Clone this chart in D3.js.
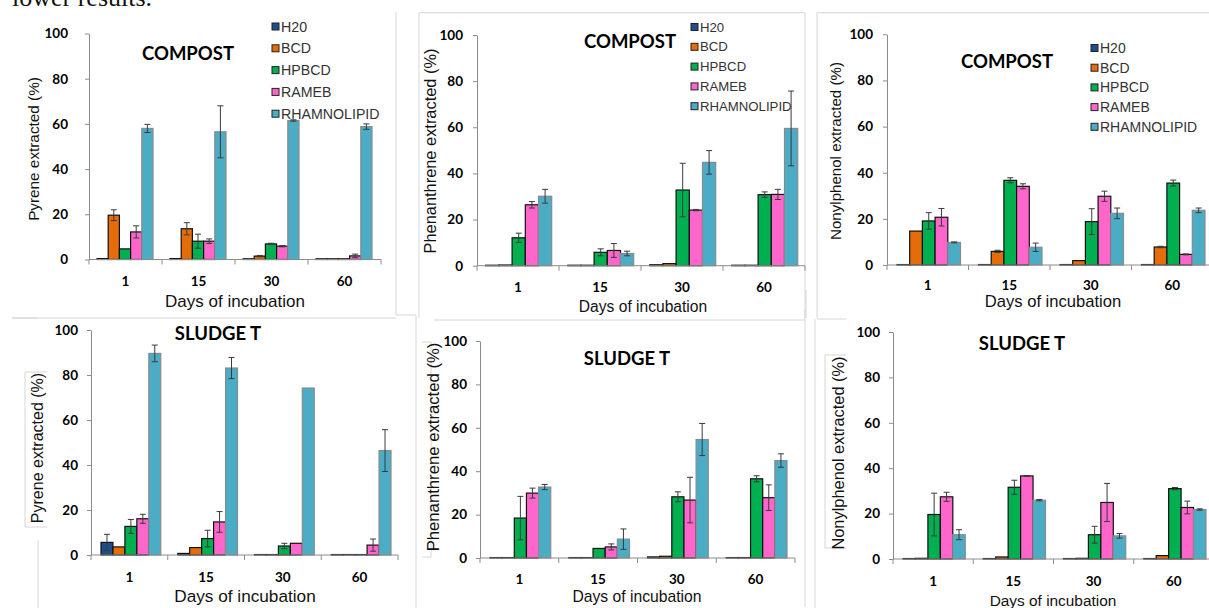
<!DOCTYPE html>
<html>
<head>
<meta charset="utf-8">
<script src="https://cdn.jsdelivr.net/npm/d3@7"></script>
<style>
  html, body { margin: 0; padding: 0; background: #fff; }
  svg { display: block; }
</style>
</head>
<body>
<svg id="chart" width="1209" height="608"></svg>
<script>
// ---------------- DATA ----------------
const categories = ["1", "15", "30", "60"];
const seriesNames = ["H20", "BCD", "HPBCD", "RAMEB", "RHAMNOLIPID"];
const yTickValues = [0, 20, 40, 60, 80, 100];

// rows = series (H20, BCD, HPBCD, RAMEB, RHAMNOLIPID), columns = days (1, 15, 30, 60)
const pyreneCompost = [
  [0.4, 0.4, 0.3, 0.3],
  [19.6, 13.6, 1.5, 0.3],
  [4.7, 8.1, 6.9, 0.3],
  [12.2, 8.1, 5.9, 1.6],
  [58.0, 56.5, 61.5, 58.8]
];
const pyreneCompostErr = [
  [0, 0, 0, 0],
  [2.4, 2.7, 0.3, 0],
  [0, 3.1, 0.3, 0],
  [2.7, 1.0, 0.3, 0.8],
  [1.8, 11.5, 0.3, 1.2]
];

const phenanthreneCompost = [
  [0.2, 0.2, 0.4, 0.2],
  [0.3, 0.2, 0.9, 0.2],
  [12.1, 5.8, 32.8, 30.8],
  [26.4, 6.6, 24.1, 30.9],
  [30.1, 5.3, 44.8, 59.5]
];
const phenanthreneCompostErr = [
  [0, 0, 0, 0],
  [0, 0, 0, 0],
  [2.0, 1.5, 11.6, 1.2],
  [1.4, 3.0, 0.3, 2.2],
  [3.0, 1.0, 5.1, 16.2]
];

const nonylphenolCompost = [
  [0.2, 0.2, 0.2, 0.2],
  [14.7, 5.9, 1.9, 7.8],
  [19.1, 36.7, 18.8, 35.5],
  [20.7, 34.1, 29.8, 4.6],
  [9.8, 7.7, 22.4, 23.7]
];
const nonylphenolCompostErr = [
  [0, 0, 0, 0],
  [0, 0.5, 0, 0.3],
  [3.6, 1.1, 5.6, 1.3],
  [3.8, 1.1, 2.2, 0.2],
  [0.2, 1.8, 2.3, 1.0]
];

const pyreneSludge = [
  [5.6, 0.7, 0.2, 0.2],
  [3.6, 3.3, 0.2, 0.2],
  [12.7, 7.3, 4.0, 0.2],
  [16.1, 14.7, 5.2, 4.4],
  [89.6, 83.1, 74.2, 46.4]
];
const pyreneSludgeErr = [
  [3.6, 0, 0, 0],
  [0, 0, 0, 0],
  [3.1, 3.7, 1.2, 0],
  [2.0, 4.6, 0, 2.7],
  [3.7, 4.7, 0, 9.3]
];

const phenanthreneSludge = [
  [0.2, 0.2, 0.5, 0.2],
  [0.2, 0.2, 0.8, 0.2],
  [18.4, 4.4, 28.2, 36.5],
  [29.9, 5.1, 26.7, 27.8],
  [32.7, 8.7, 54.6, 44.9]
];
const phenanthreneSludgeErr = [
  [0, 0, 0, 0],
  [0, 0, 0, 0],
  [10.0, 0, 2.3, 1.4],
  [2.3, 1.4, 10.5, 5.9],
  [1.2, 4.7, 7.4, 3.1]
];

const nonylphenolSludge = [
  [0.2, 0.2, 0.2, 0.2],
  [0.3, 0.9, 0.3, 1.5],
  [19.6, 31.6, 10.7, 31.0],
  [27.4, 36.6, 24.9, 22.7],
  [10.7, 25.9, 10.2, 21.8]
];
const nonylphenolSludgeErr = [
  [0, 0, 0, 0],
  [0, 0, 0, 0],
  [9.4, 3.1, 3.7, 0.5],
  [2.0, 0.2, 8.4, 2.8],
  [2.2, 0.3, 1.0, 0.3]
];

// ---------------- STYLE / LAYOUT ----------------
const seriesColors = ["#1f4e8c", "#e46c0a", "#00b050", "#ff66cc", "#4bacc6"];
const seriesStroke = ["#111", "#111", "#111", "#111", "#8a8a8a"];

const panels = [
  { values: pyreneCompost, errs: pyreneCompostErr, ylabel: "Pyrene extracted (%)", title: "COMPOST",
    x0: 89, x1: 381, yTop: 33.5, yBot: 259.5, padL: 8, padR: 9, tickPad: 17,
    catY: 286, titleX: 188, titleY: 60, ylabX: 33, ylabY: 149, ylabFs: 15.3,
    xlabX: 235, xlabY: 307, xlabFs: 17,
    legend: { x: 272, y: 26.5, dy: 21.8, fs: 14.2 } },
  { values: phenanthreneCompost, errs: phenanthreneCompostErr, ylabel: "Phenanthrene extracted (%)", title: "COMPOST",
    x0: 477, x1: 805, yTop: 35, yBot: 265.7, padL: 8.7, padR: 7.3, tickPad: 10,
    catY: 292, titleX: 630, titleY: 48, ylabX: 430, ylabY: 151, ylabFs: 16.4,
    xlabX: 643, xlabY: 312, xlabFs: 15.6,
    legend: { x: 691, y: 27, dy: 19.8, fs: 13.2 } },
  { values: nonylphenolCompost, errs: nonylphenolCompostErr, ylabel: "Nonylphenol extracted (%)", title: "COMPOST",
    x0: 887, x1: 1213, yTop: 34.3, yBot: 265, padL: 10, padR: 8, tickPad: 10,
    catY: 290, titleX: 1007, titleY: 68, ylabX: 835, ylabY: 151, ylabFs: 15.1,
    xlabX: 1053, xlabY: 307, xlabFs: 16.6,
    legend: { x: 1091, y: 48, dy: 19.7, fs: 14 } },
  { values: pyreneSludge, errs: pyreneSludgeErr, ylabel: "Pyrene extracted (%)", title: "SLUDGE T",
    x0: 91, x1: 398, yTop: 330, yBot: 555, padL: 10, padR: 7, tickPad: 9,
    catY: 582, titleX: 218, titleY: 340, ylabX: 37, ylabY: 448, ylabFs: 16,
    xlabX: 245, xlabY: 602, xlabFs: 17.2, legend: null },
  { values: phenanthreneSludge, errs: phenanthreneSludgeErr, ylabel: "Phenanthrene extracted (%)", title: "SLUDGE T",
    x0: 480, x1: 795, yTop: 341, yBot: 558, padL: 10, padR: 8, tickPad: 9,
    catY: 584, titleX: 627, titleY: 365, ylabX: 433, ylabY: 447, ylabFs: 16.7,
    xlabX: 637, xlabY: 602, xlabFs: 15.7, legend: null },
  { values: nonylphenolSludge, errs: nonylphenolSludgeErr, ylabel: "Nonylphenol extracted (%)", title: "SLUDGE T",
    x0: 893, x1: 1214, yTop: 332, yBot: 559, padL: 10, padR: 8, tickPad: 9,
    catY: 586, titleX: 1022, titleY: 350, ylabX: 838, ylabY: 453, ylabFs: 16.4,
    xlabX: 1053, xlabY: 606, xlabFs: 15.4, legend: null }
];

const svg = d3.select("#chart");

// faint frames of the pasted figure pieces
const frameLines = [
  "M396,12 V315 H416 V608",
  "M12,318 H37",
  "M419,318 V12.7 H805 V318",
  "M805,310 V607",
  "M817,318 V12.7 H1209",
  "M806,290 V318",
  "M12,318 H396",
  "M434,320 H805",
  "M815,319 V608",
  "M817,319 H846",
  "M47,372 H25 V527 H47",
  "M422,342 H431 V557 H422",
  "M846,355 H825 V548 H846",
  "M38,540 V608"
];
svg.append("g").selectAll("path").data(frameLines).join("path")
  .attr("d", d => d).attr("fill", "none").attr("stroke", "#d6d6d6").attr("stroke-width", 1);

// top text fragment (cut off at the top edge, as in the reference)
svg.append("text").attr("x", 12).attr("y", 6)
  .style("font-family", "'Liberation Serif', 'DejaVu Serif', serif").style("font-size", "26px")
  .attr("fill", "#111").text("lower results.");

panels.forEach(p => {
  const g = svg.append("g");
  const x = d3.scaleBand().domain(categories).range([p.x0, p.x1]).padding(0);
  const xs = d3.scaleBand().domain(seriesNames).range([p.padL, x.bandwidth() - p.padR]).padding(0);
  const y = d3.scaleLinear().domain([0, 100]).range([p.yBot, p.yTop]);

  // y axis
  const yAxis = g.append("g").attr("transform", `translate(${p.x0},0)`)
    .call(d3.axisLeft(y).tickValues(yTickValues).tickSize(4).tickSizeOuter(0).tickPadding(p.tickPad));
  yAxis.select(".domain").attr("stroke", "#8c8c8c");
  yAxis.selectAll(".tick line").attr("stroke", "#8c8c8c");
  yAxis.selectAll(".tick text")
    .style("font-family", "Lato, 'Open Sans', sans-serif").style("font-weight", "bold")
    .style("font-size", "13.5px").attr("fill", "#000");

  // bars
  seriesNames.forEach((s, si) => {
    const bars = g.append("g");
    bars.selectAll("rect").data(categories).join("rect")
      .attr("x", (c) => x(c) + xs(s))
      .attr("y", (c, ci) => y(p.values[si][ci]))
      .attr("width", xs.bandwidth())
      .attr("height", (c, ci) => y(0) - y(p.values[si][ci]))
      .attr("fill", seriesColors[si])
      .attr("stroke", seriesStroke[si]).attr("stroke-width", 1.2);
  });

  // error bars
  seriesNames.forEach((s, si) => {
    categories.forEach((c, ci) => {
      const e = p.errs[si][ci];
      if (!e) return;
      const v = p.values[si][ci];
      const cx = x(c) + xs(s) + xs.bandwidth() / 2;
      const eg = g.append("g").attr("stroke", "#3a3a3a").attr("stroke-width", 1);
      eg.append("line").attr("x1", cx).attr("x2", cx).attr("y1", y(v + e)).attr("y2", y(Math.max(0, v - e)));
      eg.append("line").attr("x1", cx - 3).attr("x2", cx + 3).attr("y1", y(v + e)).attr("y2", y(v + e));
      eg.append("line").attr("x1", cx - 3).attr("x2", cx + 3).attr("y1", y(Math.max(0, v - e))).attr("y2", y(Math.max(0, v - e)));
    });
  });

  // x axis line and boundary ticks
  g.append("line").attr("x1", p.x0).attr("x2", p.x1).attr("y1", y(0)).attr("y2", y(0))
    .attr("stroke", "#8c8c8c");
  const bounds = categories.map(c => x(c)).concat([p.x1]);
  g.selectAll(".btick").data(bounds).join("line")
    .attr("x1", d => d).attr("x2", d => d).attr("y1", y(0)).attr("y2", y(0) + 5)
    .attr("stroke", "#8c8c8c");
  g.selectAll(".clab").data(categories).join("text")
    .attr("x", c => x(c) + x.bandwidth() / 2).attr("y", p.catY)
    .attr("text-anchor", "middle")
    .style("font-family", "Lato, 'Open Sans', sans-serif").style("font-weight", "bold")
    .style("font-size", "13.5px").attr("fill", "#000").text(c => c);

  // titles
  g.append("text").attr("x", p.titleX).attr("y", p.titleY).attr("text-anchor", "middle")
    .style("font-family", "Lato, 'Open Sans', sans-serif").style("font-weight", "bold")
    .style("font-size", "18.5px").attr("fill", "#000").text(p.title);

  g.append("text").attr("transform", `translate(${p.ylabX},${p.ylabY}) rotate(-90)`)
    .attr("text-anchor", "middle").attr("dominant-baseline", "central")
    .style("font-family", "'Liberation Sans', Arial, sans-serif")
    .style("font-size", p.ylabFs + "px").attr("fill", "#111").text(p.ylabel);

  g.append("text").attr("x", p.xlabX).attr("y", p.xlabY).attr("text-anchor", "middle")
    .style("font-family", "'Liberation Sans', Arial, sans-serif")
    .style("font-size", p.xlabFs + "px").attr("fill", "#111").text("Days of incubation");

  // legend
  if (p.legend) {
    const L = p.legend;
    const lg = g.append("g");
    const items = lg.selectAll("g").data(seriesNames).join("g")
      .attr("transform", (d, i) => `translate(${L.x},${L.y + i * L.dy})`);
    items.append("rect").attr("x", 0).attr("y", -3.5).attr("width", 7).attr("height", 7)
      .attr("fill", (d, i) => seriesColors[i]).attr("stroke", "#222").attr("stroke-width", 1);
    items.append("text").attr("x", 9).attr("y", 0).attr("dominant-baseline", "central")
      .style("font-family", "'Liberation Sans', Arial, sans-serif")
      .style("font-size", L.fs + "px").attr("fill", "#333").text(d => d);
  }
});
</script>
</body>
</html>
